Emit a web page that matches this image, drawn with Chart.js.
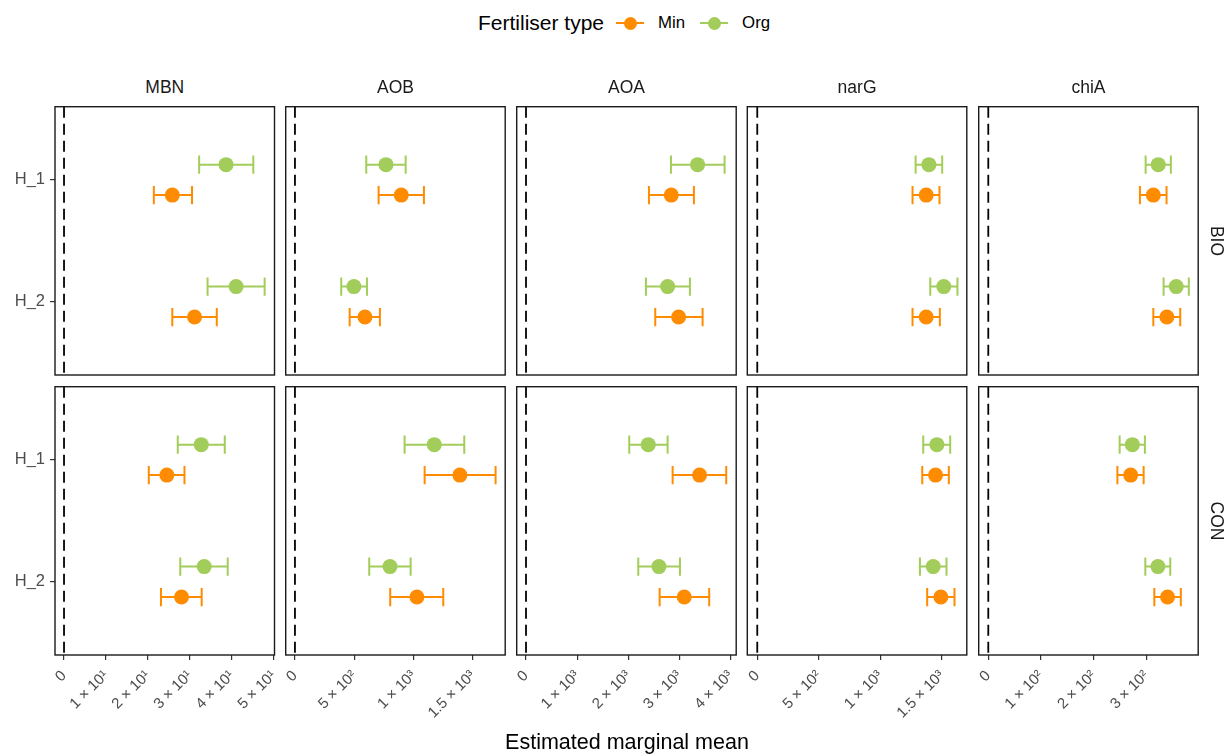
<!DOCTYPE html>
<html><head><meta charset="utf-8">
<script src="https://cdn.jsdelivr.net/npm/chart.js@4"></script>
<style>
body{margin:0;background:#fff;width:1226px;height:754px;position:relative;overflow:hidden;font-family:'Liberation Sans',Arial,Helvetica,sans-serif;}
canvas{position:absolute;}
.t{position:absolute;white-space:nowrap;line-height:1;}
.c{transform:translate(-50%,-50%);}
</style></head><body>
<script>
// ---------------- DATA ----------------
const genes = ['MBN','AOB','AOA','narG','chiA'];
const systems = ['BIO','CON'];
const hybrids = ['H_1','H_2'];
const fertTypes = ['Min','Org'];
const fertColors = ['#FF8C00','#A2CD5A'];
// each inner pair: [H_1, H_2], outer order follows genes
const bioMinMean = [[25.8,31.1],[896,590],[2840,2984],[1373,1373],[313.3,339.0]];
const bioMinLow  = [[21.4,25.8],[705,461],[2404,2527],[1262,1262],[287.9,313.3]];
const bioMinHigh = [[30.5,36.4],[1087,716],[3283,3453],[1481,1484],[338.4,364.4]];
const bioOrgMean = [[38.6,41.0],[767,497],[3355,2769],[1395,1516],[322.7,356.8]];
const bioOrgLow  = [[32.2,34.2],[601,390],[2834,2345],[1287,1406],[298.7,332.8]];
const bioOrgHigh = [[45.1,47.8],[933,607],[3883,3205],[1503,1627],[346.6,380.7]];
const conMinMean = [[24.5,28.0],[1390,1028],[3394,3094],[1449,1492],[270.3,340.3]];
const conMinLow  = [[20.2,23.1],[1093,803],[2867,2613],[1341,1381],[245.1,315.2]];
const conMinHigh = [[28.7,32.8],[1691,1250],[3915,3582],[1557,1603],[294.9,365.5]];
const conOrgMean = [[32.7,33.4],[1174,801],[2390,2599],[1460,1430],[273.5,322.0]];
const conOrgLow  = [[27.1,27.7],[924,626],[2019,2195],[1349,1322],[249.4,298.1]];
const conOrgHigh = [[38.3,39.0],[1427,975],[2769,3010],[1568,1538],[297.3,345.5]];
const xTickValues = [[0,10,20,30,40,50],[0,500,1000,1500],[0,1000,2000,3000,4000],[0,500,1000,1500],[0,100,200,300]];
const xTickLabels = [
  ['0','1 × 10¹','2 × 10¹','3 × 10¹','4 × 10¹','5 × 10¹'],
  ['0','5 × 10²','1 × 10³','1.5 × 10³'],
  ['0','1 × 10³','2 × 10³','3 × 10³','4 × 10³'],
  ['0','5 × 10²','1 × 10³','1.5 × 10³'],
  ['0','1 × 10²','2 × 10²','3 × 10²']
];
const xMin = [-2.15,-78,-182,-81,-18.2];
const xMax = [50.15,1772,4110,1703,398.5];

// ---------------- LAYOUT ----------------
const FONT = "'Liberation Sans', Arial, Helvetica, sans-serif";
const colL = [55, 285.7, 516.7, 747.3, 978.7];
const rowT = [106.7, 386.7];
const PW = 219.5, PH = 268.3;
const DODGE = 0.125, CAP = 0.075;
const Y_W = 55, X_H = 80;

const series = {
  BIO: {Min:[bioMinMean,bioMinLow,bioMinHigh], Org:[bioOrgMean,bioOrgLow,bioOrgHigh]},
  CON: {Min:[conMinMean,conMinLow,conMinHigh], Org:[conOrgMean,conOrgLow,conOrgHigh]}
};

const panelPlugin = {
  id:'panelExtras',
  beforeDatasetsDraw(chart){
    const {ctx, scales:{x,y}} = chart;
    chart.data.datasets.forEach(ds=>{
      if(!ds.errorBars) return;
      ctx.save();
      ctx.strokeStyle = ds.backgroundColor; ctx.lineWidth = 2;
      ds.data.forEach(p=>{
        const py = y.getPixelForValue(p.y);
        const x0 = x.getPixelForValue(p.xMin), x1 = x.getPixelForValue(p.xMax);
        const c0 = y.getPixelForValue(p.y-CAP), c1 = y.getPixelForValue(p.y+CAP);
        ctx.beginPath();
        ctx.moveTo(x0,py); ctx.lineTo(x1,py);
        ctx.moveTo(x0,c0); ctx.lineTo(x0,c1);
        ctx.moveTo(x1,c0); ctx.lineTo(x1,c1);
        ctx.stroke();
      });
      ctx.restore();
    });
  },
  afterDraw(chart){
    const {ctx, chartArea:a} = chart;
    ctx.save(); ctx.strokeStyle='#1a1a1a'; ctx.lineWidth=1.4;
    ctx.strokeRect(a.left,a.top,a.right-a.left,a.bottom-a.top);
    ctx.restore();
  }
};

function makePanel(r,c){
  const showY = c===0, showX = r===1;
  const yW = showY ? Y_W : 0, xH = showX ? X_H : 0;
  const extraL = showY ? 0 : 12;
  const ax = colL[c], ay = rowT[r];
  const cx = Math.floor(ax - yW - extraL);
  const cy = Math.floor(ay - 3);
  const cw = Math.ceil(ax + PW + 3) - cx;
  const ch = Math.ceil(ay + PH + xH + 3) - cy;
  const cv = document.createElement('canvas');
  cv.width = cw; cv.height = ch;
  cv.style.left = cx+'px'; cv.style.top = cy+'px';
  cv.style.width = cw+'px'; cv.style.height = ch+'px';
  document.body.appendChild(cv);
  const pad = {left: ax - yW - cx, top: ay - cy, right: (cx+cw)-(ax+PW), bottom: (cy+ch)-(ay+PH+xH)};
  const sys = systems[r];
  const datasets = [{
    type:'line', data:[{x:0,y:-0.6},{x:0,y:1.6}], borderColor:'#000', borderWidth:1.8,
    borderDash:[11,6], pointRadius:0, fill:false
  }];
  fertTypes.forEach((f,fi)=>{
    const [mean,lo,hi] = series[sys][f];
    const off = f==='Org' ? -DODGE : DODGE;
    datasets.push({
      type:'scatter', label:f, errorBars:true,
      backgroundColor: fertColors[fi], borderColor: fertColors[fi], borderWidth:0,
      pointRadius:7.5, pointHoverRadius:7.5,
      data: hybrids.map((h,hi2)=>({x:mean[c][hi2], y:hi2+off, xMin:lo[c][hi2], xMax:hi[c][hi2]}))
    });
  });
  const gridOpt = {display:true, drawOnChartArea:false, drawTicks:true, tickLength:5, color:'#333333', lineWidth:1.2};
  const xScale = {
    type:'linear', position:'bottom', min:xMin[c], max:xMax[c], display:showX,
    afterBuildTicks:s=>{ s.ticks = xTickValues[c].map(v=>({value:v})); },
    ticks:{autoSkip:false, minRotation:45, maxRotation:45, color:'#4D4D4D', font:{size:15, family:FONT}, padding:7,
      callback:(v,i)=>xTickLabels[c][i]},
    grid:gridOpt, border:{display:false}
  };
  if(showX) xScale.afterFit = s=>{ s.height = X_H; s.paddingLeft = 0; s.paddingRight = 0; };
  const yScale = {
    type:'linear', position:'left', min:-0.6, max:1.6, reverse:true, display:showY,
    afterBuildTicks:s=>{ s.ticks = hybrids.map((h,i)=>({value:i})); },
    ticks:{color:'#4D4D4D', font:{size:16.5, family:FONT}, padding:5, callback:v=>hybrids[v]},
    grid:gridOpt, border:{display:false}
  };
  if(showY) yScale.afterFit = s=>{ s.width = Y_W; s.paddingTop = 0; s.paddingBottom = 0; };
  new Chart(cv, {
    type:'scatter',
    data:{datasets},
    options:{
      responsive:false, animation:false, events:[],
      layout:{padding:pad, autoPadding:false},
      plugins:{legend:{display:false}, tooltip:{enabled:false}},
      scales:{x:xScale, y:yScale}
    },
    plugins:[panelPlugin]
  });
}

for(let r=0;r<2;r++) for(let c=0;c<5;c++) makePanel(r,c);

function addText(txt, x, y, size, color, extra){
  const d = document.createElement('div');
  d.className = 't c'; d.textContent = txt;
  d.style.left = x+'px'; d.style.top = y+'px';
  d.style.fontSize = size+'px'; d.style.color = color;
  if(extra) d.style.transform = 'translate(-50%,-50%) '+extra;
  document.body.appendChild(d);
}
genes.forEach((g,c)=> addText(g, colL[c]+PW/2, 88, 17.5, '#1A1A1A'));
systems.forEach((s,r)=> addText(s, 1216, rowT[r]+PH/2, 17.5, '#1A1A1A', 'rotate(90deg)'));
addText('Estimated marginal mean', 627, 743, 21.5, '#000');

// legend
const lg = document.createElement('div');
lg.style.cssText = 'position:absolute;left:478px;top:9px;height:28px;display:flex;align-items:center;font-size:21px;color:#000;white-space:nowrap;';
let html = '<span style="margin-right:12px">Fertiliser type</span>';
fertTypes.forEach((f,i)=>{
  html += '<span style="position:relative;display:inline-block;width:28px;height:28px;margin-right:14px;">'+
    '<span style="position:absolute;left:0;top:13px;width:28px;height:2px;background:'+fertColors[i]+'"></span>'+
    '<span style="position:absolute;left:7.5px;top:7.5px;width:13px;height:13px;border-radius:50%;background:'+fertColors[i]+'"></span></span>'+
    '<span style="font-size:16.8px;margin-right:15px">'+f+'</span>';
});
lg.innerHTML = html;
document.body.appendChild(lg);
</script>
</body></html>
